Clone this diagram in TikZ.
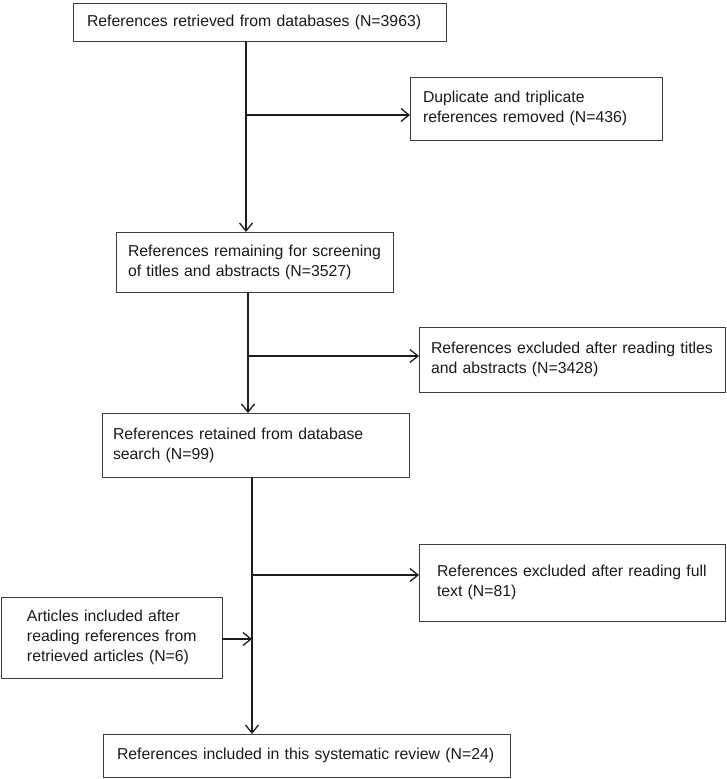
\documentclass[tikz,border=0pt]{standalone}
\usepackage{fontspec}
\setmainfont{Liberation Sans}
\usetikzlibrary{arrows.meta}
\definecolor{linec}{HTML}{1E1E1E}
\definecolor{boxc}{HTML}{3C3C3C}
\definecolor{txtc}{HTML}{1A1A1A}
\begin{document}
\begin{tikzpicture}[x=1pt,y=-1pt,
  box/.style={draw=boxc, line width=0.9pt, anchor=north west, outer sep=0pt,
    inner ysep=0pt, align=left, text=txtc,
    font=\fontsize{15.8}{20}\selectfont},
  conn/.style={draw=linec, line width=1.3pt},
  arr/.style={conn, -{Straight Barb[length=8pt,width=13pt,line width=1.3pt]}}]
\useasboundingbox (0,0) rectangle (726,779);

\node[box, text width=345pt, inner xsep=14pt, minimum height=38pt] (b1) at (73,3)
  {\mbox{References retrieved from databases (N=3963)}};
\node[box, text width=226pt, inner xsep=13pt, minimum height=63pt] (b2) at (410,77)
  {\mbox{Duplicate and triplicate}\\\mbox{references removed (N=436)}};
\node[box, text width=253pt, inner xsep=12pt, minimum height=60pt] (b3) at (116,232)
  {\mbox{References remaining for screening}\\\mbox{of titles and abstracts (N=3527)}};
\node[box, text width=282pt, inner xsep=12pt, minimum height=65pt] (b5) at (419,327)
  {\mbox{References excluded after reading titles}\\\mbox{and abstracts (N=3428)}};
\node[box, text width=285pt, inner xsep=11pt, minimum height=64pt] (b4) at (102,413)
  {\mbox{References retained from database}\\\mbox{search (N=99)}};
\node[box, text width=270pt, inner xsep=18pt, minimum height=77pt] (b6) at (419,544)
  {\mbox{References excluded after reading full}\\\mbox{text (N=81)}};
\node[box, text width=169pt, inner xsep=26pt, minimum height=81pt] (b7) at (1,597)
  {\mbox{Articles included after}\\\mbox{reading references from}\\\mbox{retrieved articles (N=6)}};
\node[box, text width=379pt, inner xsep=14pt, minimum height=43pt] (b8) at (103,734)
  {\mbox{References included in this systematic review (N=24)}};

\coordinate (s1) at (246,41);
\coordinate (j1) at (246,115);
\coordinate (s2) at (248,292);
\coordinate (j2) at (248,356);
\coordinate (s3) at (252,477);
\coordinate (j3) at (252,575);
\coordinate (j4) at (252,639);

\draw[arr] (s1) -- (s1 |- b3.north);
\draw[arr] (j1) -- (j1 -| b2.west);
\draw[arr] (s2) -- (s2 |- b4.north);
\draw[arr] (j2) -- (j2 -| b5.west);
\draw[arr] (s3) -- (s3 |- b8.north);
\draw[arr] (j3) -- (j3 -| b6.west);
\draw[arr] (j4 -| b7.east) -- (j4);
\end{tikzpicture}
\end{document}
